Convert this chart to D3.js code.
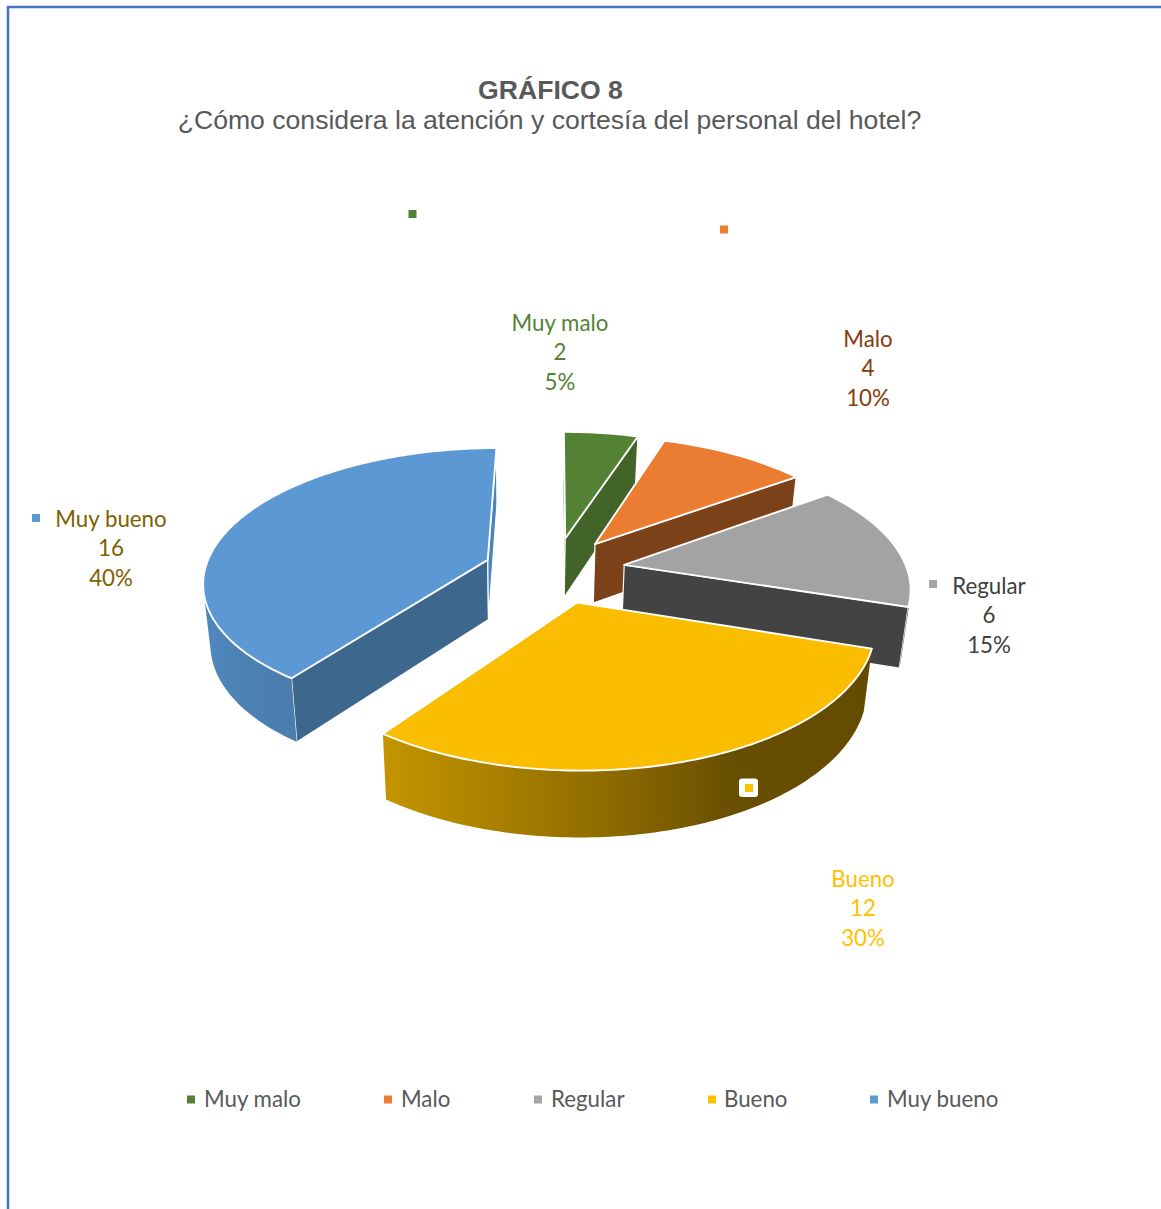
<!DOCTYPE html>
<html>
<head>
<meta charset="utf-8">
<script src="https://cdn.jsdelivr.net/npm/d3@7"></script>
<style>
  html, body { margin: 0; padding: 0; background: #fff; overflow: hidden; }
  svg { display: block; }
</style>
</head>
<body>
<script>
// Survey results: staff attention and courtesy at the hotel
const categories = ["Muy malo", "Malo", "Regular", "Bueno", "Muy bueno"];
const responses = [2, 4, 6, 12, 16];
const keyColors = ["#548235", "#ED7D31", "#A5A5A5", "#FFC000", "#5B9BD5"];
const faceColors = ["#548235", "#EB7D32", "#A3A3A3", "#FBBD00", "#5B98D4"];
const labelColors = ["#548235", "#843C0C", "#404040", "#FFC000", "#7F6000"];
const startWallColors = ["#548235", "#9E5424", "#6E6E6E", "#8F6C00", "#3E678D"];
const endWallColors = ["#426429", "#7B4219", "#434343", "#665000", "#4A85C0"];

const W = 1161, H = 1209;

// Perspective pie geometry
const pieGeo = { cx: 554.5, cy: 570, R: 283, explode: 71, tilt: 0.465, dist: 1870, depth: 59.5 };

// Label and key placement per category
const labelAnchors = [[560, 323], [868, 339], [989, 586], [863, 879], [111, 519]];
const labelKeys = [[412.5, 214], [724, 229.5], [933, 584], [749, 788], [36, 518]];
const legendKeyX = [191, 388, 538, 712, 874];
const legendTextX = [204, 401, 551, 724, 887];

const svg = d3.select("body").append("svg").attr("width", W).attr("height", H);
const defs = svg.append("defs");

// Frame along the top and left only
svg.append("path")
  .attr("d", "M8,1209 V7 H1161")
  .attr("fill", "none").attr("stroke", "#4472C4").attr("stroke-width", 2.5);

// Title
svg.append("text").attr("x", 550.5).attr("y", 99).attr("text-anchor", "middle")
  .attr("font-family", "Liberation Sans").attr("font-weight", "bold").attr("font-size", 26.6)
  .attr("fill", "#595959").text("GRÁFICO 8");
svg.append("text").attr("x", 549.5).attr("y", 129).attr("text-anchor", "middle")
  .attr("font-family", "Liberation Sans").attr("font-size", 26.6)
  .attr("fill", "#595959").text("¿Cómo considera la atención y cortesía del personal del hotel?");

// Ground-plane point to screen, with foreshortening toward the back
function topPoint(X, Y) {
  const s = 1 / (1 + Y / pieGeo.dist);
  return [pieGeo.cx + X * s, pieGeo.cy - pieGeo.tilt * Y * s];
}
// Same point on the underside of the extruded pie
function lowerPoint(p) {
  return [p[0] - (p[0] - 520) * 0.023, p[1] + pieGeo.depth + (p[1] - 560) * 0.035];
}
const cross = (a, b) => a[0] * b[1] - a[1] * b[0];
const line = d3.line();
const closed = pts => line(pts) + "Z";

const pieLayout = d3.pie().sort(null).startAngle(0).endAngle(2 * Math.PI);
const arcs = pieLayout(responses);
const total = d3.sum(responses);
const pct = d3.format(".0%");

const slices = arcs.map((d, i) => {
  const mid = (d.startAngle + d.endAngle) / 2;
  const ox = pieGeo.explode * Math.sin(mid), oy = pieGeo.explode * Math.cos(mid);
  const at = a => topPoint(ox + pieGeo.R * Math.sin(a), oy + pieGeo.R * Math.cos(a));
  const apex = topPoint(ox, oy);
  const steps = Math.ceil((d.endAngle - d.startAngle) / (Math.PI / 180));
  const rim = d3.range(steps + 1).map(k => at(d.startAngle + (d.endAngle - d.startAngle) * k / steps));
  return { i, apex, rim };
});

const gPie = svg.append("g");

function wallVisible(a, b) {
  const e = [b[0] - a[0], b[1] - a[1]];
  const la = lowerPoint(a), lb = lowerPoint(b);
  const dv = [(la[0] + lb[0] - a[0] - b[0]) / 2, (la[1] + lb[1] - a[1] - b[1]) / 2];
  return cross(e, dv) < 0;
}

// Curved side shading, one horizontal ramp per visible rim
const rimRamps = [
  ["#548235", "#426429"], ["#9E5424", "#7B4219"], ["#6E6E6E", "#434343"],
  ["#C49500", "#8F6C00", "#684E00", "#654B00"], ["#5088BE", "#4B80B2", "#4B7DAE"]
];

// Back slices first so nearer ones cover them
[0, 1, 2, 4, 3].forEach(idx => {
  const s = slices[idx];
  const g = gPie.append("g");
  const first = s.rim[0], last = s.rim[s.rim.length - 1];

  const drawWall = (a, b, fill) => {
    if (!wallVisible(a, b)) return;
    g.append("path")
      .attr("d", closed([a, b, lowerPoint(b), lowerPoint(a)]))
      .attr("fill", fill).attr("stroke", "#fff").attr("stroke-width", 1.2);
  };
  drawWall(s.apex, first, startWallColors[idx]);
  drawWall(last, s.apex, endWallColors[idx]);

  // Visible stretch of the curved side
  const vis = [];
  for (let k = 0; k < s.rim.length - 1; k++) {
    if (wallVisible(s.rim[k], s.rim[k + 1])) { vis.push(s.rim[k]); vis.push(s.rim[k + 1]); }
  }
  if (vis.length) {
    const pts = vis.concat(vis.map(lowerPoint).reverse());
    const x0 = d3.min(pts, p => p[0]), x1 = d3.max(pts, p => p[0]);
    const id = "rim" + idx;
    const ramp = rimRamps[idx];
    const grad = defs.append("linearGradient").attr("id", id)
      .attr("gradientUnits", "userSpaceOnUse").attr("x1", x0).attr("x2", x1).attr("y1", 0).attr("y2", 0);
    const stopAt = ramp.length === 4 ? [0, 0.45, 0.72, 1] : d3.range(ramp.length).map(k => k / (ramp.length - 1));
    ramp.forEach((c, k) => grad.append("stop").attr("offset", stopAt[k]).attr("stop-color", c));
    g.append("path").attr("d", closed(pts)).attr("fill", `url(#${id})`);
  }

  g.append("path")
    .attr("d", closed([s.apex].concat(s.rim)))
    .attr("fill", faceColors[idx])
    .attr("stroke", "#fff").attr("stroke-width", 1.9).attr("stroke-linejoin", "round");
});

// Data labels: category, count, share
const labelFont = "Lato";
categories.forEach((name, i) => {
  const [x, y] = labelAnchors[i];
  const lines = [name, String(responses[i]), pct(responses[i] / total)];
  lines.forEach((t, j) => {
    svg.append("text").attr("x", x).attr("y", y + 8 + j * 29.4)
      .attr("text-anchor", "middle").attr("font-family", labelFont).attr("font-size", 22.3)
      .attr("fill", labelColors[i]).text(t);
  });
  const [kx, ky] = labelKeys[i];
  if (i === 3) {
    svg.append("rect").attr("x", kx - 10).attr("y", ky - 9.5).attr("width", 19).attr("height", 18.5)
      .attr("rx", 3).attr("fill", "#fff");
  }
  svg.append("rect").attr("x", kx - 4).attr("y", ky - 4).attr("width", 8).attr("height", 8)
    .attr("fill", keyColors[i]);
});

// Legend row
categories.forEach((name, i) => {
  svg.append("rect").attr("x", legendKeyX[i] - 4).attr("y", 1095.5).attr("width", 8).attr("height", 8)
    .attr("fill", keyColors[i]);
  svg.append("text").attr("x", legendTextX[i]).attr("y", 1107)
    .attr("font-family", labelFont).attr("font-size", 22.3)
    .attr("fill", "#595959").text(name);
});
</script>
</body>
</html>
